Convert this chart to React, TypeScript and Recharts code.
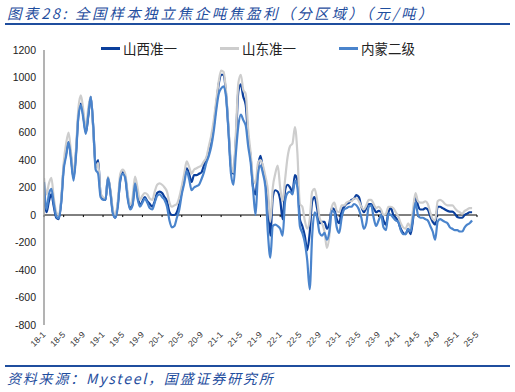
import React from 'react';
import { LineChart, Line, XAxis, YAxis, ReferenceLine } from 'recharts';

const tickLabels = ['18-1','18-5','18-9','19-1','19-5','19-9','20-1','20-5','20-9','21-1','21-5','21-9','22-1','22-5','22-9','23-1','23-5','23-9','24-1','24-5','24-9','25-1','25-5'];
const tickMonths = [0,4,8,12,16,20,24,28,32,36,40,44,48,52,56,60,64,68,72,76,80,84,88];
const yTicks = [-800,-600,-400,-200,0,200,400,600,800,1000,1200];

// half-month samples starting 2018-01
const shanxi = [
  160, 20, 100, 150, 60, -20, -30, 100, 350, 450, 530, 420, 270, 450, 730, 810, 720, 600, 720, 860, 640, 360, 400, 150,
  120, 110, 270, 170, 20, -20, 80, 250, 310, 280, 140, 50, 80, 220, 150, 70, 100, 130, 100, 80, 60, 100, 160, 170,
  160, 130, 100, 20, 0, 0, 20, 80, 170, 260, 340, 300, 240, 290, 290, 300, 310, 360, 410, 460, 540, 650, 800, 950,
  1020, 1020, 880, 620, 350, 300, 550, 900, 950, 860, 800, 560, 420, 200, 150, 350, 430, 330, 250, 120, -150, 130, 180, 170,
  110, -30, 180, 220, 200, 170, 290, 250, -30, -80, -150, -255, -130, 100, 130, 50, -60, -50, -50, -100, -60, 50, 40, -30,
  -60, 30, 60, 80, 90, 110, 120, 145, 130, 60, 20, 50, 80, 80, 50, 20, 30, 25, -40, -70, 20, 50, 0, -20,
  -50, -100, -130, -140, -100, -140, -30, 145, 70, 40, 40, 50, 40, -10, -50, -70, 60, 60, 50, 40, 30, 25, 25, 10,
  -15, -20, -20, 0, 10, 20, 20,
];
const shandong = [
  270, 150, 230, 270, 120, 20, 0, 120, 380, 520, 600, 450, 300, 480, 780, 870, 760, 620, 780, 860, 620, 340, 380, 160,
  130, 120, 280, 180, 40, 0, 100, 300, 330, 300, 160, 70, 130, 280, 200, 110, 140, 160, 150, 120, 110, 170, 220, 230,
  220, 200, 170, 90, 60, 70, 80, 130, 210, 300, 390, 350, 300, 330, 340, 350, 360, 390, 420, 500, 580, 690, 830, 970,
  1050, 1040, 900, 640, 380, 310, 600, 960, 1020, 910, 880, 620, 450, 260, 230, 380, 400, 360, 280, 180, -50, 200, 300, 360,
  200, 100, 260, 420, 500, 520, 640, 450, 80, 60, -40, -100, -30, 170, 190, 110, -20, -60, -120, -240, -150, 60, 90, 30,
  20, 70, 70, 90, 100, 100, 120, 120, 100, 60, 40, 70, 110, 110, 80, 50, 60, 40, 0, 10, 60, 60, 50, 20,
  -10, -60, -90, -100, -60, -90, 40, 160, 100, 90, 90, 100, 80, 20, -30, -40, 100, 110, 100, 80, 70, 70, 70, 50,
  30, 20, 10, 30, 40, 50, 50,
];
const neimeng = [
  240, 40, 150, 190, 80, -10, -25, 90, 330, 430, 530, 400, 250, 430, 720, 800, 700, 590, 730, 860, 650, 330, 300, 130,
  110, 110, 270, 160, 10, -20, 60, 260, 300, 270, 120, 40, 70, 230, 120, 60, 90, 120, 90, 50, 40, 90, 140, 150,
  130, 110, 60, -40, -90, -80, -20, 40, 150, 230, 320, 260, 180, 200, 210, 220, 260, 310, 380, 430, 500, 610, 760, 880,
  920, 935, 860, 600, 300, 220, 450, 650, 730, 690, 650, 500, 380, 180, 0, 300, 360, 300, 200, -130, -310, -80, -70, -80,
  -100, -150, 100, 160, 170, 150, 250, 200, -80, -130, -200, -330, -540, -150, 20, -20, -130, -150, -130, -180, -120, 30, 20, -90,
  -130, -20, 40, 50, 60, 60, 80, 70, 40, -20, -100, -60, 60, 70, -20, -80, -40, 0, -90, -110, 10, 0, -20, -40,
  -50, -110, -140, -140, -100, -120, -20, 90, 0, -20, -20, -30, -40, -80, -120, -180, -50, -30, -40, -50, -60, -90, -100, -110,
  -110, -120, -120, -90, -70, -60, -40,
];

const seriesNames = ['山西准一', '山东准一', '内蒙二级'];
const seriesColors = ['#0B3F9C', '#CDCDCD', '#4A84CC'];

const data = shanxi.map((v, i) => ({ m: i / 2, s: v, d: shandong[i], n: neimeng[i] }));
const keys = ['s', 'd', 'n'];

const latin = '"Liberation Sans", Arial, sans-serif';
const cjk = '"Noto Sans CJK SC", "Liberation Sans", sans-serif';
const blue = '#1F4E9E';

const XTick = (props: any) => {
  const { x, y, payload } = props;
  const idx = tickMonths.indexOf(payload.value);
  return (
    <g transform={`translate(${x},${y})`}>
      <text x={0} y={0} dy={3} textAnchor="end" transform="rotate(-45)" fontSize={8.5} fill="#333" fontFamily={latin}>
        {idx >= 0 ? tickLabels[idx] : ''}
      </text>
    </g>
  );
};

export default function App() {
  return (
    <div style={{ position: 'absolute', left: 0, top: 0, width: 515, height: 392, background: '#fff', overflow: 'hidden' }}>
      <div style={{ position: 'absolute', left: 7, top: 3, fontSize: 14.5, fontStyle: 'italic', color: blue, fontFamily: cjk, letterSpacing: 2.6, whiteSpace: 'nowrap', lineHeight: '20px' }}>
        图表28:&nbsp;全国样本独立焦企吨焦盈利（分区域）（元/吨）
      </div>
      <div style={{ position: 'absolute', left: 5, top: 23, width: 505, height: 2, background: blue }} />
      <div style={{ position: 'absolute', left: 101, top: 39, display: 'flex', fontFamily: cjk, fontSize: 13.5, color: '#222', lineHeight: '18px' }}>
        {seriesNames.map((nm, i) => (
          <div key={nm} style={{ display: 'flex', alignItems: 'center', width: 119 }}>
            <div style={{ width: 19, height: 3, background: seriesColors[i], marginRight: 3 }} />
            <span>{nm}</span>
          </div>
        ))}
      </div>
      <div style={{ position: 'absolute', left: 0, top: 0 }}>
        <LineChart width={515} height={392} data={data} margin={{ top: 50, right: 38, bottom: 37, left: 0 }}>
          <XAxis dataKey="m" type="number" domain={[0, 88]} ticks={tickMonths} interval={0} axisLine={false} tickLine={false}
            tickSize={0} tickMargin={8} height={30} tick={<XTick />} allowDataOverflow />
          <YAxis type="number" domain={[-800, 1200]} ticks={yTicks} interval={0} width={44} axisLine={{ stroke: '#9A9A9A', strokeWidth: 1.5 }}
            tickLine={false} tickSize={6} tickMargin={2} tick={{ fontSize: 10.5, fill: '#222', fontFamily: latin }} allowDataOverflow />
          <ReferenceLine y={0} stroke="#000" strokeWidth={1} />
          {tickMonths.map((t) => (
            <ReferenceLine key={t} segment={[{ x: t, y: 0 }, { x: t, y: -15 }]} stroke="#000" strokeWidth={1} />
          ))}
          {keys.map((k, i) => (
            <Line key={k} dataKey={k} type="monotone" stroke={seriesColors[i]} strokeWidth={2.2} dot={false} isAnimationActive={false} />
          ))}
        </LineChart>
      </div>
      <div style={{ position: 'absolute', left: 5, top: 365, width: 505, height: 1.5, background: blue }} />
      <div style={{ position: 'absolute', left: 7, top: 369, fontSize: 14, fontStyle: 'italic', color: blue, fontFamily: cjk, letterSpacing: 1.8, whiteSpace: 'nowrap', lineHeight: '18px' }}>
        资料来源：Mysteel，国盛证券研究所
      </div>
    </div>
  );
}
